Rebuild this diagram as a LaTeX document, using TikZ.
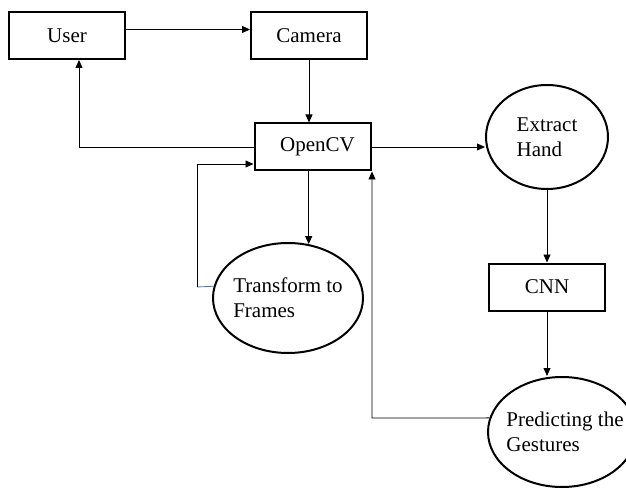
\documentclass[tikz,border=0pt]{standalone}
\usepackage{fontspec}
\setmainfont{Liberation Serif}
\usepackage{tikz}
\usetikzlibrary{arrows.meta, positioning}
\usetikzlibrary{shapes.geometric}
\tikzstyle{arrow} = [line width=0.8pt,-{Triangle[length=8pt,width=7pt]}]
\tikzstyle{stagebox} = [rectangle, draw, line width=2pt, minimum width=116pt, minimum height=47pt, inner sep=0pt]
\tikzstyle{stageoval} = [ellipse, draw, line width=2pt, inner sep=0pt]

\begin{document}
\begin{tikzpicture}[x=1pt, y=-1pt, font=\fontsize{21}{25}\selectfont]
\useasboundingbox (0,0) rectangle (626,489);

% Define the box nodes
\node[stagebox] (user) at (67,35.5) {User};
\node[stagebox] (camera) at (309,35.5) {Camera};
\node[stagebox] (opencv) at (312.5,147) {\hspace{10pt}OpenCV};
\node[stagebox] (cnn) at (547,287) {CNN};

% Define the ellipse nodes
\node[stageoval, minimum width=150pt, minimum height=110pt,
  label={[name=transformtext, align=left]center:Transform to\\Frames}] (transform) at (288,298) {};
\node[stageoval, minimum width=122pt, minimum height=104pt,
  label={[name=extracttext, align=left]center:Extract\\Hand}] (extract) at (547,137) {};
\node[stageoval, minimum width=148pt, minimum height=110pt,
  label={[name=predicttext, align=left, xshift=3pt]center:Predicting the\\Gestures}] (predict) at (562,432) {};

% Bend points
\coordinate (loopturn) at (197,287);
\coordinate (backturn) at (372,418);

% Add arrows between the nodes
\draw[arrow] ([yshift=6pt]user.east) -- ([yshift=6pt]user.east -| camera.west);
\draw[arrow] (camera.south) -- (camera.south |- opencv.north);
\draw[arrow] (opencv.west) -| ([xshift=12pt]user.south);
\draw[arrow] (opencv.south -| transform.69) -- (transform.69);
\draw[line width=0.8pt, color={rgb,255:red,68;green,114;blue,196}] (transform.171) -- (loopturn);
\draw[arrow] (loopturn) |- ([yshift=-17pt]opencv.west);
\draw[arrow] (opencv.east) -- (extract.west |- opencv.east);
\draw[arrow] (extract.south) -- (cnn.north);
\draw[arrow] (cnn.south) -- (cnn.south |- predict.north);
\draw[arrow] (predict.169) -- (backturn) -- (backturn |- opencv.south);

\end{tikzpicture}
\end{document}
